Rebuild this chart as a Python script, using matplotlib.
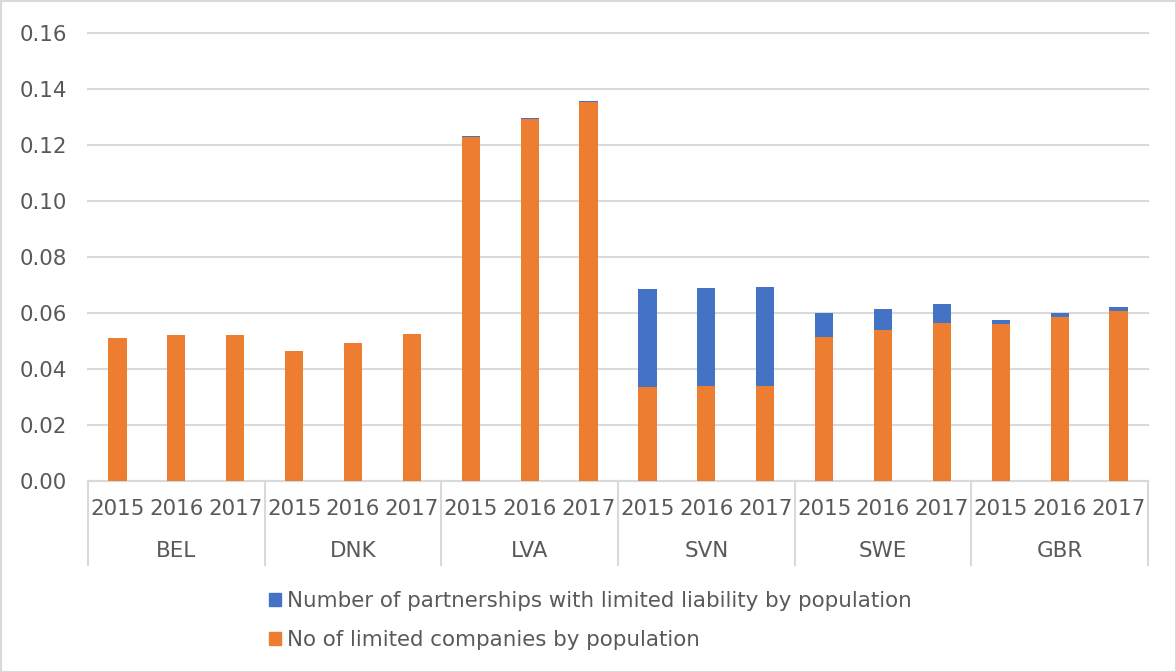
import matplotlib.pyplot as plt
from matplotlib.patches import Patch, Rectangle
import numpy as np

countries = ['BEL', 'DNK', 'LVA', 'SVN', 'SWE', 'GBR']
years = ['2015', '2016', '2017']

# values per country, years 2015..2017
limited_companies = [0.0512, 0.0521, 0.0523,
                     0.0466, 0.0494, 0.0526,
                     0.1228, 0.1293, 0.1355,
                     0.0336, 0.0339, 0.0341,
                     0.0515, 0.0541, 0.0563,
                     0.0562, 0.0585, 0.0606]
partnerships = [0.0, 0.0, 0.0,
                0.0, 0.0, 0.0,
                0.0005, 0.0003, 0.0002,
                0.0350, 0.0349, 0.0353,
                0.0084, 0.0074, 0.0068,
                0.0014, 0.0016, 0.0017]

orange = '#ED7D31'
blue = '#4472C4'
txt = '#595959'
grid = '#D9D9D9'
fs = 15.4

plt.rcParams['font.family'] = ['DejaVu Sans']

fig = plt.figure(figsize=(11.76, 6.72), dpi=100)
ax = fig.add_axes([88/1176, 1 - 481/672, 1060/1176, 448/672])

x = np.arange(len(limited_companies))
w = 0.31
ax.bar(x, limited_companies, w, color=orange, zorder=3)
ax.bar(x, partnerships, w, bottom=limited_companies, color=blue, zorder=3)

ax.set_xlim(-0.5, len(x) - 0.5)
ax.set_ylim(0, 0.16)
ax.set_yticks(np.arange(0, 0.161, 0.02))
ax.set_yticklabels(['%.2f' % v for v in np.arange(0, 0.161, 0.02)])
ax.tick_params(axis='y', length=0, pad=15, labelsize=fs, labelcolor=txt)
ax.set_xticks([])
ax.grid(axis='y', color=grid, linewidth=1.5, zorder=0)
for line in ax.get_ygridlines():
    line.set_clip_on(False)
for s in ['top', 'right', 'left']:
    ax.spines[s].set_visible(False)
ax.spines['bottom'].set_color(grid)
ax.spines['bottom'].set_linewidth(1.5)

trans = ax.get_xaxis_transform()
for i, xi in enumerate(x):
    ax.text(xi, -0.0625, years[i % 3], transform=trans, ha='center', va='center',
            fontsize=fs, color=txt)
for j, c in enumerate(countries):
    ax.text(3 * j + 1, -0.156, c, transform=trans, ha='center', va='center',
            fontsize=fs, color=txt)
for k in range(len(countries) + 1):
    ax.plot([3 * k - 0.5, 3 * k - 0.5], [0, -0.1875], transform=trans,
            color=grid, linewidth=1.5, clip_on=False)

handles = [Patch(color=blue), Patch(color=orange)]
labels = ['Number of partnerships with limited liability by population',
          'No of limited companies by population']
fig.legend(handles, labels, loc='center left', bbox_to_anchor=(269/1176, 1 - 620.5/672),
           frameon=False, fontsize=fs, labelcolor=txt, handlelength=0.55, handleheight=0.55,
           handletextpad=0.3, labelspacing=0.9, borderpad=0, borderaxespad=0)

fig.add_artist(Rectangle((0.5/1176, 0.5/672), 1 - 1/1176, 1 - 1/672, transform=fig.transFigure,
                         fill=False, edgecolor=grid, linewidth=1.5))

fig.savefig('out.png', dpi=100)
